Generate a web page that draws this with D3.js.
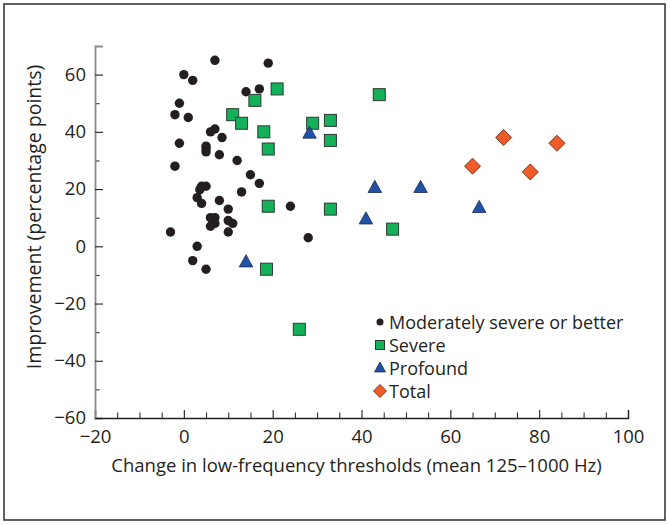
<!DOCTYPE html>
<html>
<head>
<meta charset="utf-8">
<script src="https://cdn.jsdelivr.net/npm/d3@7"></script>
<style>
  body { margin: 0; background: #fff; }
  text { font-family: "Open Sans", "Noto Sans", sans-serif; fill: #231f20; }
</style>
</head>
<body>
<svg id="chart" width="670" height="525"></svg>
<script>
// moderately severe or better  [x, y]
const moderate = [
  [7, 65], [19, 64], [0, 60], [2, 58], [14, 54], [17, 55],
  [-1, 50], [-2, 46], [1, 45], [6, 40], [7, 41], [8.6, 38],
  [-1, 36], [5, 35], [5, 34], [5, 33], [8, 32], [-2, 28], [12, 30],
  [15, 25], [17, 22], [13, 19], [4, 21], [5, 21], [3.6, 19.8],
  [3, 17], [4, 15], [8, 16], [10, 13], [24, 14],
  [6, 10], [7, 10], [6, 7], [7, 8], [10, 9], [11, 8],
  [-3, 5], [10, 5], [28, 3], [3, 0], [2, -5], [5, -8]
];
const severe = [
  [21, 55], [16, 51], [11, 46], [13, 43], [18, 40], [19, 34],
  [19, 14], [18.6, -8], [44, 53], [29, 43], [33, 44], [33, 37],
  [33, 13], [47, 6], [26, -29]
];
const profound = [
  [14, -5.5], [28.3, 39.5], [43, 20.5], [53.3, 20.5], [41, 9.5], [66.5, 13.5]
];
const total = [
  [72, 38], [84, 36], [65, 28], [78, 26]
];

const legendLabels = ["Moderately severe or better", "Severe", "Profound", "Total"];
const xTicks = [-20, 0, 20, 40, 60, 80, 100];
const yTicks = [-60, -40, -20, 0, 20, 40, 60];

const svg = d3.select("#chart");

// outer frame
svg.append("rect")
  .attr("x", 4).attr("y", 4)
  .attr("width", 661).attr("height", 516)
  .attr("fill", "none")
  .attr("stroke", "#3a3a3a")
  .attr("stroke-width", 1.6);

const margin = {top: 46, left: 95, right: 42, bottom: 107};
const width = 670 - margin.left - margin.right;
const height = 525 - margin.top - margin.bottom;

const x = d3.scaleLinear().domain([-20, 100]).range([0, width]);
const y = d3.scaleLinear().domain([-60, 70]).range([height, 0]);

const g = svg.append("g")
  .attr("transform", `translate(${margin.left},${margin.top})`);

// minor ticks
g.append("g")
  .attr("transform", `translate(0,${height})`)
  .call(d3.axisBottom(x).tickValues(d3.range(-15, 100, 5).filter(d => d % 20 !== 0))
    .tickSize(-5.5).tickFormat(""))
  .call(a => a.select(".domain").remove());
g.append("g")
  .call(d3.axisLeft(y).tickValues(d3.range(-50, 70, 20))
    .tickSize(-4.5).tickFormat(""))
  .call(a => a.select(".domain").remove());

// major axes
const xAxis = g.append("g")
  .attr("transform", `translate(0,${height})`)
  .call(d3.axisBottom(x).tickValues(xTicks).tickSize(-8).tickPadding(12)
    .tickFormat(d => d < 0 ? "\u2212" + Math.abs(d) : d));
const yAxis = g.append("g")
  .call(d3.axisLeft(y).tickValues(yTicks).tickSize(-8).tickPadding(9)
    .tickFormat(d => d < 0 ? "\u2212" + Math.abs(d) : d));

[xAxis, yAxis].forEach(a => {
  a.selectAll(".tick line").attr("stroke", "#231f20").attr("stroke-width", 1.1);
  a.selectAll(".tick text").attr("font-size", 18.5).attr("fill", "#231f20");
  a.select(".domain").attr("stroke", "#8a8a8a").attr("stroke-width", 1.8);
});
xAxis.select(".domain").attr("stroke", "#231f20").attr("stroke-width", 1.4);
g.selectAll(".tick line").attr("stroke", "#231f20");

// axis titles
g.append("text")
  .attr("x", width / 2 - 5)
  .attr("y", height + 54)
  .attr("text-anchor", "middle")
  .attr("font-size", 18.5)
  .text("Change in low-frequency thresholds (mean 125\u20131000 Hz)");
g.append("text")
  .attr("transform", `translate(-54,${height / 2 - 15}) rotate(-90)`)
  .attr("text-anchor", "middle")
  .attr("font-size", 19.5)
  .text("Improvement (percentage points)");

// marks
const styles = {
  moderate: {fill: "#231f20", stroke: "none"},
  severe:   {fill: "#13b15a", stroke: "#2d3a33"},
  profound: {fill: "#1f52a3", stroke: "#1c2a55"},
  total:    {fill: "#f15a29", stroke: "#7a3a22"}
};

function circle(sel, r) {
  sel.append("circle").attr("r", r)
    .attr("fill", styles.moderate.fill);
}
function square(sel, s) {
  sel.append("rect").attr("x", -s / 2).attr("y", -s / 2)
    .attr("width", s).attr("height", s)
    .attr("fill", styles.severe.fill).attr("stroke", styles.severe.stroke).attr("stroke-width", 1);
}
function triangle(sel, w) {
  const h = w * 0.9;
  sel.append("path")
    .attr("d", `M0,${-h * 0.6}L${w / 2},${h * 0.4}L${-w / 2},${h * 0.4}Z`)
    .attr("fill", styles.profound.fill).attr("stroke", styles.profound.stroke).attr("stroke-width", 0.8);
}
function diamond(sel, w) {
  const r = w / 2;
  sel.append("path")
    .attr("d", `M0,${-r}L${r},0L0,${r}L${-r},0Z`)
    .attr("fill", styles.total.fill).attr("stroke", styles.total.stroke).attr("stroke-width", 1);
}

const plot = g.append("g");
plot.selectAll(".mod").data(moderate).join("g")
  .attr("transform", d => `translate(${x(d[0])},${y(d[1])})`)
  .each(function() { circle(d3.select(this), 4.7); });
plot.selectAll(".sev").data(severe).join("g")
  .attr("transform", d => `translate(${x(d[0])},${y(d[1])})`)
  .each(function() { square(d3.select(this), 12); });
plot.selectAll(".pro").data(profound).join("g")
  .attr("transform", d => `translate(${x(d[0])},${y(d[1])})`)
  .each(function() { triangle(d3.select(this), 13.5); });
plot.selectAll(".tot").data(total).join("g")
  .attr("transform", d => `translate(${x(d[0])},${y(d[1])})`)
  .each(function() { diamond(d3.select(this), 16); });

// legend
const legend = svg.append("g").attr("transform", "translate(380,322)");
const drawers = [
  s => circle(s, 3.5),
  s => square(s, 9),
  s => triangle(s, 11),
  s => diamond(s, 13)
];
legendLabels.forEach((lab, i) => {
  const row = legend.append("g").attr("transform", `translate(0,${i * 23})`);
  drawers[i](row);
  row.append("text")
    .attr("x", 9)
    .attr("y", 6.5)
    .attr("font-size", 18)
    .text(lab);
});
</script>
</body>
</html>
